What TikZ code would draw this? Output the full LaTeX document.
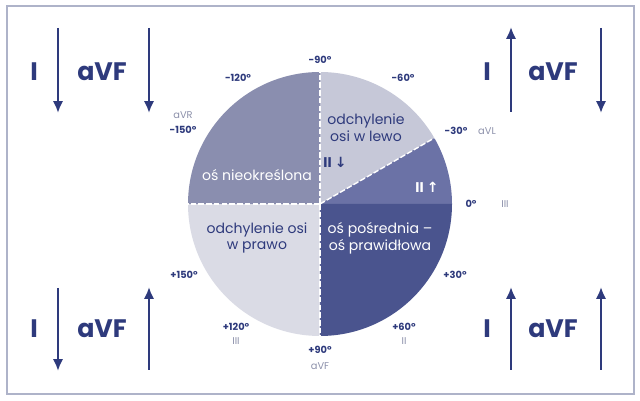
\documentclass[tikz,border=0pt]{standalone}
\usepackage{fontspec}
\setmainfont{Poppins}
\newfontfamily\arrowfont{DejaVu Sans}
\usepackage{xcolor}
\usetikzlibrary{arrows.meta}
\definecolor{navy}{HTML}{2E3A7C}
\definecolor{frame}{HTML}{AEB3C9}
\definecolor{leadgray}{HTML}{8C90AA}
\definecolor{lewo}{HTML}{C6C8D8}
\definecolor{plusII}{HTML}{6B72A6}
\definecolor{normal}{HTML}{4A548E}
\definecolor{prawo}{HTML}{DADBE5}
\definecolor{nieokr}{HTML}{8A8EAF}

\begin{document}
\begin{tikzpicture}[
    lead/.style={font=\fontsize{18}{20}\selectfont\bfseries, text=navy},
    deg/.style={font=\fontsize{7}{8}\selectfont\bfseries, text=navy},
    leadname/.style={font=\fontsize{7}{8}\selectfont, text=leadgray},
    zone/.style={font=\fontsize{10}{12}\selectfont, align=center},
    zonebold/.style={font=\fontsize{10}{12}\selectfont\bfseries},
    vec/.style={-{Latex[length=8.5pt, width=7.5pt]}, line width=1.8pt, draw=navy},
    split/.style={draw=white, line width=1pt, dash pattern=on 4pt off 1.5pt}]
    \useasboundingbox (0, 0) rectangle (16, 10.025);
    \draw[frame, line width=1pt] (0.175, 0.175) rectangle (15.85, 9.875);
    % the wheel
    \coordinate (o) at (8, 4.925);
    \fill[lewo] (o) -- ++(30:3.3) arc[start angle=30, end angle=90, radius=3.3] -- cycle;
    \fill[plusII] (o) -- ++(0:3.3) arc[start angle=0, end angle=30, radius=3.3] -- cycle;
    \fill[normal] (o) -- ++(-90:3.3) arc[start angle=-90, end angle=0, radius=3.3] -- cycle;
    \fill[prawo] (o) -- ++(180:3.3) arc[start angle=180, end angle=270, radius=3.3] -- cycle;
    \fill[nieokr] (o) -- ++(90:3.3) arc[start angle=90, end angle=180, radius=3.3] -- cycle;
    \draw[split] (o) -- ++(90:3.3);
    \draw[split] (o) -- ++(-90:3.3);
    \draw[split] (o) -- ++(180:3.3);
    \draw[split] (o) -- ++(30:3.3);
    \node[zone, text=navy] (lewoTxt) at (9.15, 6.825) {odchylenie\\osi w lewo};
    \node[zonebold, text=navy] (downII) at (8.375, 5.975) {II {\arrowfont\bfseries ↓}};
    \node[zone, text=white] (nieokrTxt) at (6.425, 5.65) {oś nieokreślona};
    \node[zonebold, text=white] (upII) at (10.675, 5.35) {II {\arrowfont\bfseries ↑}};
    \node[zone, text=navy] (prawoTxt) at (6.425, 4.075) {odchylenie osi\\w prawo};
    \node[zone, text=white] (normalTxt) at (9.5, 4.075) {oś pośrednia –\\oś prawidłowa};
    % degrees and leads
    \node[deg] (m90) at (8, 8.525) {-90°};
    \node[deg] (m120) at (5.95, 8.075) {-120°};
    \node[deg] (m60) at (10.075, 8.075) {-60°};
    \node[leadname] (aVR) at (4.575, 7.15) {aVR};
    \node[deg] (m150) at (4.575, 6.775) {-150°};
    \node[deg] (m30) at (11.4, 6.75) {-30°};
    \node[leadname] (aVL) at (12.175, 6.75) {aVL};
    \node[deg] (p0) at (11.775, 4.925) {0°};
    \node[leadname] (leadI) at (12.625, 4.925) {III};
    \node[deg] (p30) at (11.375, 3.15) {+30°};
    \node[deg] (p150) at (4.6, 3.15) {+150°};
    \node[deg] (p120) at (5.9, 1.85) {+120°};
    \node[leadname] (leadIII) at (5.9, 1.5) {III};
    \node[deg] (p60) at (10.1, 1.85) {+60°};
    \node[leadname] (leadII) at (10.1, 1.5) {II};
    \node[deg] (p90) at (8, 1.275) {+90°};
    \node[leadname] (aVF) at (8, 0.875) {aVF};
    % corner keys
    \node[lead] (tlI) at (0.85, 8.225) {I};
    \node[lead] (tlF) at (2.55, 8.225) {aVF};
    \node[lead] (trI) at (12.175, 8.225) {I};
    \node[lead] (trF) at (13.825, 8.225) {aVF};
    \node[lead] (blI) at (0.85, 1.8) {I};
    \node[lead] (blF) at (2.55, 1.8) {aVF};
    \node[lead] (brI) at (12.175, 1.8) {I};
    \node[lead] (brF) at (13.825, 1.8) {aVF};
    \coordinate (tl1a) at (1.45, 9.325);   \coordinate (tl1b) at (1.45, 7.2);
    \coordinate (tl2a) at (3.725, 9.325);  \coordinate (tl2b) at (3.725, 7.2);
    \coordinate (tr1a) at (12.775, 9.35);  \coordinate (tr1b) at (12.775, 7.225);
    \coordinate (tr2a) at (15.025, 9.325); \coordinate (tr2b) at (15.025, 7.2);
    \coordinate (bl1a) at (1.45, 2.825);   \coordinate (bl1b) at (1.45, 0.75);
    \coordinate (bl2a) at (3.725, 2.85);   \coordinate (bl2b) at (3.725, 0.775);
    \coordinate (br1a) at (12.775, 2.85);  \coordinate (br1b) at (12.775, 0.775);
    \coordinate (br2a) at (15.025, 2.85);  \coordinate (br2b) at (15.025, 0.775);
    \draw[vec] (tl1a) -- (tl1b);
    \draw[vec] (tl2a) -- (tl2b);
    \draw[vec] (tr1b) -- (tr1a);
    \draw[vec] (tr2a) -- (tr2b);
    \draw[vec] (bl1a) -- (bl1b);
    \draw[vec] (bl2b) -- (bl2a);
    \draw[vec] (br1b) -- (br1a);
    \draw[vec] (br2b) -- (br2a);
  \end{tikzpicture}
\end{document}
